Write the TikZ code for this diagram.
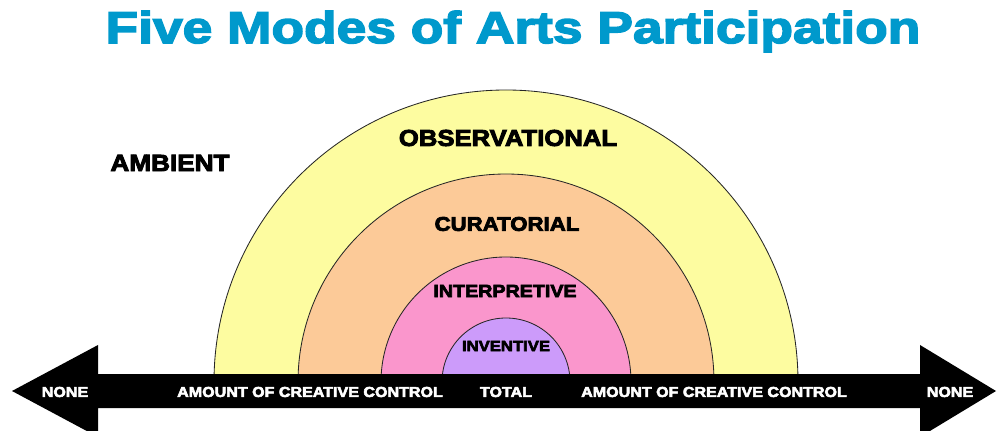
\documentclass[tikz,border=0pt]{standalone}
\usepackage{xcolor}
\usepackage{fontspec}
\usepackage{tikz}

\newfontfamily\labelfont[FakeBold=4,FakeStretch=1.12]{Liberation Sans Bold}
\newfontfamily\titlefont[FakeBold=3.5,FakeStretch=1.2]{Liberation Sans Bold}

\definecolor{titleblue}{RGB}{0,153,204}
\definecolor{obsyellow}{RGB}{253,252,160}
\definecolor{curpeach}{RGB}{252,202,152}
\definecolor{intpink}{RGB}{250,150,204}
\definecolor{invlilac}{RGB}{204,155,250}

\tikzset{
  band/.style={draw=black!85, line width=.6pt},
  modelabel/.style={inner sep=0, text=black},
  axislabel/.style={inner sep=0, text=white, font=\labelfont\fontsize{10.2}{12}\selectfont}
}

\begin{document}
\begin{tikzpicture}[x=.025cm, y=-.025cm]
     \useasboundingbox (0,0) rectangle (998,431);
     \clip (0,0) rectangle (998,431);

     \node[anchor=base, inner sep=0, text=titleblue, font=\titlefont\fontsize{31.6}{36}\selectfont] (title) at (513,43) {Five Modes of Arts Participation};

     \draw[band, fill=obsyellow] (214,382) arc[start angle=180, end angle=360, radius=292] -- cycle;
     \draw[band, fill=curpeach] (298,382) arc[start angle=180, end angle=360, radius=208] -- cycle;
     \draw[band, fill=intpink] (381,382) arc[start angle=180, end angle=360, radius=125] -- cycle;
     \draw[band, fill=invlilac] (442,382) arc[start angle=180, end angle=360, radius=64] -- cycle;

     \node[modelabel, font=\labelfont\fontsize{16.6}{18}\selectfont] (ambient) at (170,163) {AMBIENT};
     \node[modelabel, font=\labelfont\fontsize{16.3}{18}\selectfont] (observational) at (508,138) {OBSERVATIONAL};
     \node[modelabel, font=\labelfont\fontsize{14.1}{16}\selectfont] (curatorial) at (507,224) {CURATORIAL};
     \node[modelabel, font=\labelfont\fontsize{12.5}{14}\selectfont] (interpretive) at (505,291) {INTERPRETIVE};
     \node[modelabel, font=\labelfont\fontsize{10.6}{12}\selectfont] (inventive) at (506,346) {INVENTIVE};

     \fill[black] (12,391) -- (98,345) -- (98,374) -- (920,374) -- (920,345) -- (996,391)
        -- (920,437) -- (920,408) -- (98,408) -- (98,437) -- cycle;

     \node[axislabel] (noneL) at (65,392) {NONE};
     \node[axislabel] (amountL) at (310,392) {AMOUNT OF CREATIVE CONTROL};
     \node[axislabel] (total) at (506,392) {TOTAL};
     \node[axislabel] (amountR) at (714,392) {AMOUNT OF CREATIVE CONTROL};
     \node[axislabel] (noneR) at (950,392) {NONE};
\end{tikzpicture}
\end{document}
